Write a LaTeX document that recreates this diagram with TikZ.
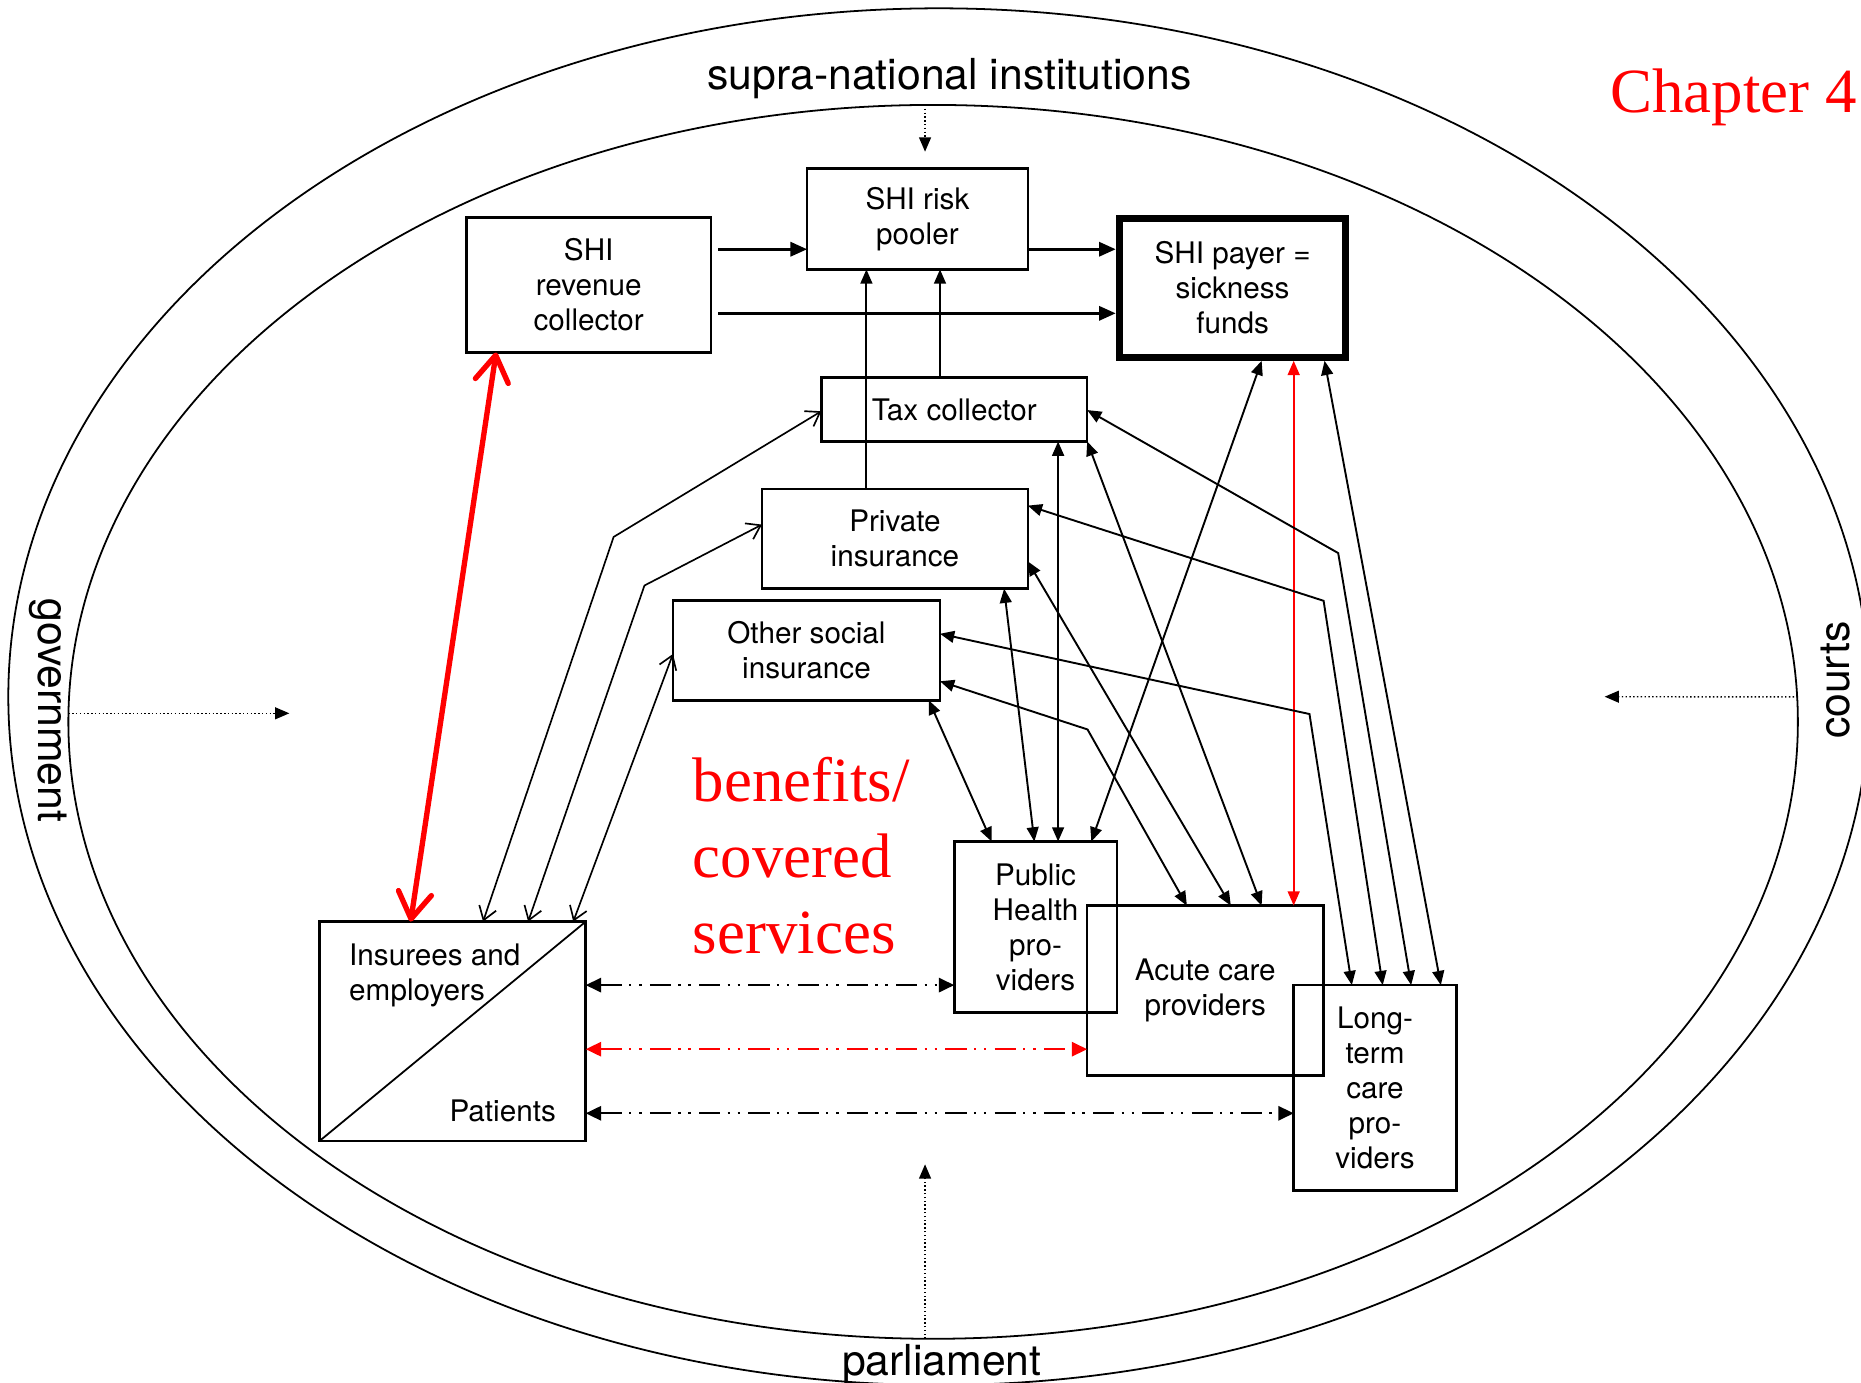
\documentclass[tikz,border=0pt]{standalone}
\usepackage{fontspec}
\setmainfont{TeX Gyre Heros}
\newfontfamily\tmsfont{Liberation Serif}
\usetikzlibrary{arrows.meta,shapes.geometric}
\begin{document}
\begin{tikzpicture}[x=1pt,y=-1pt,
  box/.style={draw, rectangle, line width=2.2pt, inner sep=0pt, outer sep=0pt, align=center,
              font={\fontsize{25}{29.5}\selectfont}},
  txt/.style={inner sep=0pt, font={\fontsize{25}{29.5}\selectfont}},
  lbl/.style={inner sep=0pt, font={\fontsize{36}{40}\selectfont}},
  ring/.style={draw, ellipse, line width=1.5pt, inner sep=0pt, outer sep=0pt},
  sa/.style={line width=2.2pt, >={Triangle[length=14pt,width=12pt]}, ->},
  one/.style={line width=1.6pt, >={Triangle[length=12pt,width=10pt]}, ->},
  tw/.style={line width=1.6pt, >={Triangle[length=12pt,width=10pt]}, <->},
  openarr/.style={line width=1.4pt, >={Straight Barb[length=11pt,width=15pt]}, <->},
  redarr/.style={red, line width=4.5pt, line cap=round, >={Straight Barb[length=22pt,width=28pt,round]}, <->},
  dd/.style={line width=2pt, dash pattern=on 18pt off 6pt on 2pt off 6.5pt on 2pt off 7pt,
             >={Triangle[length=13pt,width=12pt]}, <->},
  dotarr/.style={line width=1.2pt, dash pattern=on 1.2pt off 2pt, >={Triangle[length=12pt,width=10pt]}, ->}
]
\useasboundingbox (0,0) rectangle (1568,1165);

% rings
\node[ring, minimum width=1568pt, minimum height=1160pt] (outer) at (791,587) {};
\node[ring, minimum width=1457.2pt, minimum height=1039.6pt] (inner) at (786.2,608.2) {};

% ring labels
\node[lbl, anchor=base] (supra) at (800,75.8) {supra-national institutions};
\node[lbl, anchor=base] (parl) at (793.5,1158.8) {parliament};
\node[lbl, anchor=base, rotate=-90] (gov) at (32.4,598.5) {government};
\node[lbl, anchor=base, rotate=90] (courts) at (1558,573) {courts};

\node[red, inner sep=0pt, anchor=base west, font={\tmsfont\fontsize{53}{64}\selectfont}] (chap) at (1356.5,95) {Chapter 4};
\node[red, inner sep=0pt, anchor=base west, align=left, font={\tmsfont\fontsize{53}{64}\selectfont}] (ben) at (583.6,803.2) {benefits/\\covered\\services};

% boxes
\node[box, minimum width=206pt, minimum height=114pt] (rev) at (496,240) {SHI\\revenue\\collector};
\node[box, minimum width=186pt, minimum height=85pt] (pool) at (773,184.5) {SHI risk\\pooler};
\node[box, line width=6pt, outer sep=3pt, minimum width=191pt, minimum height=117pt] (payer) at (1038.5,242.5) {SHI payer =\\sickness\\funds};
\node[box, minimum width=224pt, minimum height=54pt] (tax) at (804,345) {Tax collector};
\node[box, minimum width=224pt, minimum height=84pt] (priv) at (754,454) {Private\\insurance};
\node[box, minimum width=225pt, minimum height=84pt] (oth) at (679.5,548) {Other social\\insurance};
\node[box, minimum width=137pt, minimum height=144pt] (pub) at (872.5,781) {Public\\Health\\pro-\\viders};
\node[box, minimum width=199pt, minimum height=143pt] (acute) at (1015.5,834.5) {Acute care\\providers};
\node[box, minimum width=137pt, minimum height=173pt] (ltc) at (1158.5,916.5) {Long-\\term\\care\\pro-\\viders};
\node[box, minimum width=224.5pt, minimum height=185pt] (ins) at (381.25,869) {};
\draw[line width=1.5pt] (ins.north east) -- (ins.south west);
\node[txt, anchor=base west, align=left] (insT) at (294,842.6) {Insurees and\\employers};
\node[txt, anchor=base east] (insB) at (468.5,944.5) {Patients};

% top flows
\draw[sa] ([xshift=6pt,yshift=-27pt]rev.north east) -- ([yshift=-68pt]pool.north west);
\draw[sa] ([xshift=6pt,yshift=-81pt]rev.north east) -- ([yshift=-83pt]payer.north west);
\draw[sa] ([yshift=-68pt]pool.north east) -- ([yshift=-29pt]payer.north west);
\draw[one] ([xshift=88pt]priv.north west) -- ([xshift=50pt]pool.south west);
\draw[one] ([xshift=100pt]tax.north west) -- ([xshift=112pt]pool.south west);

% red thick
\draw[redarr] ([xshift=25pt]rev.south west) -- ([xshift=77pt]ins.north west);

% open arrows from insurees
\coordinate (k7) at (517,452.4);
\coordinate (k8) at (543,493.3);
\draw[openarr] ([xshift=138pt]ins.north west) -- (k7) -- ([yshift=-28.5pt]tax.north west);
\draw[openarr] ([xshift=176pt]ins.north west) -- (k8) -- ([yshift=-30pt]priv.north west);
\draw[openarr] ([xshift=214pt]ins.north west) -- ([yshift=-45pt]oth.north west);

% to public health providers
\draw[tw] ([xshift=-9.5pt]oth.south east) -- ([xshift=31.5pt]pub.north west);
\draw[tw] ([xshift=204pt]priv.south west) -- ([xshift=67.5pt]pub.north west);
\draw[tw] ([xshift=199.5pt]tax.south west) -- ([xshift=87.5pt]pub.north west);
\draw[tw] ([xshift=123pt]payer.south west) -- ([xshift=115.5pt]pub.north west);

% to acute care providers
\coordinate (ke) at (916.3,614.6);
\draw[tw] ([yshift=-68pt]oth.north east) -- (ke) -- ([xshift=84pt]acute.north west);
\draw[tw] ([yshift=-61pt]priv.north east) -- ([xshift=121pt]acute.north west);
\draw[tw] (tax.south east) -- ([xshift=147pt]acute.north west);
\draw[tw, red] ([xshift=150pt]payer.south west) -- ([xshift=174pt]acute.north west);

% to long-term care providers
\coordinate (ki) at (1103.3,601.6);
\coordinate (kj) at (1115.2,506.2);
\coordinate (kk) at (1127.5,466);
\draw[tw] ([yshift=-28pt]oth.north east) -- (ki) -- ([xshift=49pt]ltc.north west);
\draw[tw] ([yshift=-14pt]priv.north east) -- (kj) -- ([xshift=75pt]ltc.north west);
\draw[tw] ([yshift=-27.5pt]tax.north east) -- (kk) -- ([xshift=99pt]ltc.north west);
\draw[tw] ([xshift=176pt]payer.south west) -- ([xshift=124pt]ltc.north west);

% services (dash-dot)
\draw[dd] ([yshift=-53.5pt]ins.north east) -- ([yshift=-121pt]pub.north west);
\draw[dd, red] ([yshift=-107.5pt]ins.north east) -- ([yshift=-121pt]acute.north west);
\draw[dd] ([yshift=-161.5pt]ins.north east) -- ([yshift=-108pt]ltc.north west);

% dotted influences
\coordinate (supraT) at (779.4,127.8);
\coordinate (govT) at (243.8,601);
\coordinate (courtsT) at (1352,587);
\coordinate (parlT) at (779.4,981);
\draw[dotarr] ([xshift=-6.8pt]inner.north) -- (supraT);
\draw[dotarr] ([yshift=7.2pt]inner.west) -- (govT);
\draw[dotarr] ([yshift=21pt]inner.east) -- (courtsT);
\draw[dotarr] ([xshift=-6.8pt]inner.south) -- (parlT);
\end{tikzpicture}
\end{document}
